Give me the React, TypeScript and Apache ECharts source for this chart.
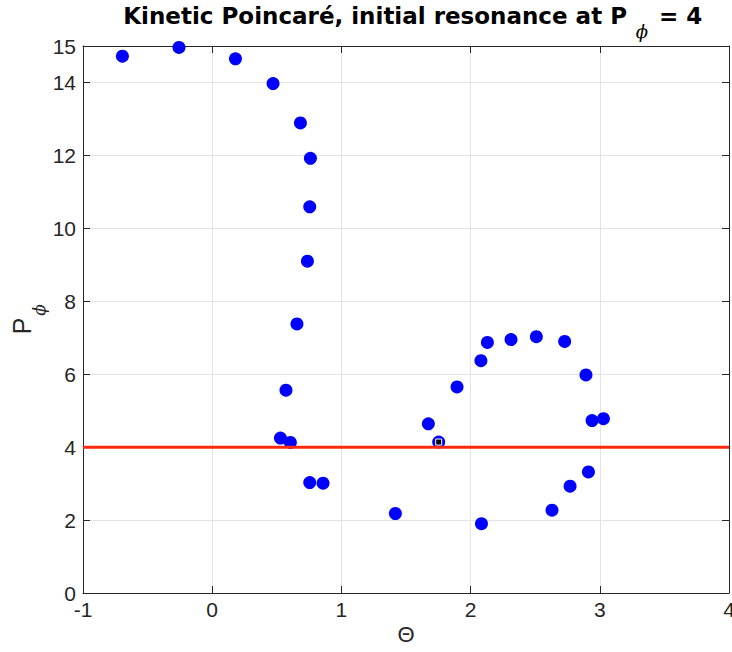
import React, { useEffect, useRef } from "react";
import * as echarts from "echarts";

const theta = [-0.695, -0.257, 0.18, 0.471, 0.683, 0.76, 0.755, 0.737, 0.656, 0.571, 0.528, 0.605, 0.755, 0.858, 1.418, 1.673, 1.753, 1.895, 2.08, 2.13, 2.313, 2.509, 2.728, 2.893, 2.94, 3.028, 2.912, 2.77, 2.63, 2.084];
const pphi = [14.72, 14.96, 14.65, 13.97, 12.89, 11.92, 10.59, 9.1, 7.38, 5.56, 4.25, 4.13, 3.03, 3.01, 2.18, 4.64, 4.14, 5.65, 6.37, 6.87, 6.95, 7.03, 6.9, 5.98, 4.73, 4.78, 3.32, 2.93, 2.27, 1.9];
const initialPoint = [1.753, 4.14];
const resonanceLevel = 4;
const resonanceX = [-1, 4];
const xRange = [-1, 4];
const yRange = [0, 15];

const FONT = "'Liberation Sans', Arial, Helvetica, sans-serif";
const TXT = "#262626";

export default function App() {
  const ref = useRef<HTMLDivElement>(null);
  useEffect(() => {
    if (!ref.current) return;
    const chart = echarts.init(ref.current, undefined, { renderer: "svg" });
    const axisCommon = {
      axisLine: { show: true, onZero: false, lineStyle: { color: TXT, width: 1 } },
      axisTick: { show: true, inside: true, length: 7, lineStyle: { color: TXT } },
    };
    chart.setOption({
      animation: false,
      backgroundColor: "#ffffff",
      grid: { left: 83, right: 3, top: 46, bottom: 59, containLabel: false, outerBoundsMode: "none" },
      xAxis: [
        {
          type: "value",
          min: xRange[0],
          max: xRange[1],
          interval: 1,
          position: "bottom",
          ...axisCommon,
          axisLabel: { color: TXT, fontSize: 21, fontFamily: FONT, margin: 6 },
          splitLine: { show: true, lineStyle: { color: "#e3e3e3", width: 1 } },
        },
        {
          type: "value",
          min: xRange[0],
          max: xRange[1],
          interval: 1,
          position: "top",
          ...axisCommon,
          axisLabel: { show: false },
          splitLine: { show: false },
        },
      ],
      yAxis: [
        {
          type: "value",
          min: yRange[0],
          max: yRange[1],
          interval: 2,
          position: "left",
          ...axisCommon,
          axisLabel: { color: TXT, fontSize: 21, fontFamily: FONT, margin: 7 },
          splitLine: { show: true, lineStyle: { color: "#e3e3e3", width: 1 } },
        },
        {
          type: "value",
          min: yRange[0],
          max: yRange[1],
          interval: 2,
          position: "right",
          ...axisCommon,
          axisLabel: { show: false },
          splitLine: { show: false },
        },
      ],
      series: [
        {
          type: "scatter",
          data: theta.map((t, i) => [t, pphi[i]]),
          symbol: "circle",
          symbolSize: 13,
          itemStyle: { color: "#0000ff", opacity: 1 },
          z: 2,
        },
        {
          type: "line",
          data: resonanceX.map((x) => [x, resonanceLevel]),
          showSymbol: false,
          symbol: "none",
          lineStyle: { color: "#ff2a0a", width: 3 },
          z: 3,
        },
        {
          type: "scatter",
          data: [initialPoint],
          symbol: "rect",
          symbolSize: 6,
          itemStyle: { color: "#000000", borderColor: "#ffffff", borderWidth: 1, opacity: 1 },
          z: 4,
        },
      ],
      graphic: [
        {
          type: "text",
          x: 627,
          y: 16,
          style: {
            text: "Kinetic Poincaré, initial resonance at P",
            font: `bold 23px 'DejaVu Sans', sans-serif`,
            fill: "#000",
            align: "right",
            verticalAlign: "middle",
          },
        },
        {
          type: "text",
          x: 642,
          y: 31,
          style: {
            text: "ϕ",
            font: `italic 18px 'DejaVu Serif', serif`,
            fill: "#000",
            align: "center",
            verticalAlign: "middle",
          },
        },
        {
          type: "text",
          x: 659,
          y: 16,
          style: {
            text: "= 4",
            font: `bold 23px 'DejaVu Sans', sans-serif`,
            fill: "#000",
            align: "left",
            verticalAlign: "middle",
          },
        },
        {
          type: "text",
          x: 406,
          y: 634,
          style: {
            text: "Θ",
            font: `22px ${FONT}`,
            fill: TXT,
            align: "center",
            verticalAlign: "middle",
          },
        },
        {
          type: "text",
          x: 22,
          y: 326,
          rotation: Math.PI / 2,
          style: {
            text: "P",
            font: `25px ${FONT}`,
            fill: TXT,
            align: "center",
            verticalAlign: "middle",
          },
        },
        {
          type: "text",
          x: 39,
          y: 310,
          rotation: Math.PI / 2,
          style: {
            text: "ϕ",
            font: `italic 17px 'DejaVu Serif', serif`,
            fill: TXT,
            align: "center",
            verticalAlign: "middle",
          },
        },
      ],
    });
    return () => chart.dispose();
  }, []);
  return <div ref={ref} style={{ width: 732, height: 652, position: "absolute", left: 0, top: 0 }} />;
}
